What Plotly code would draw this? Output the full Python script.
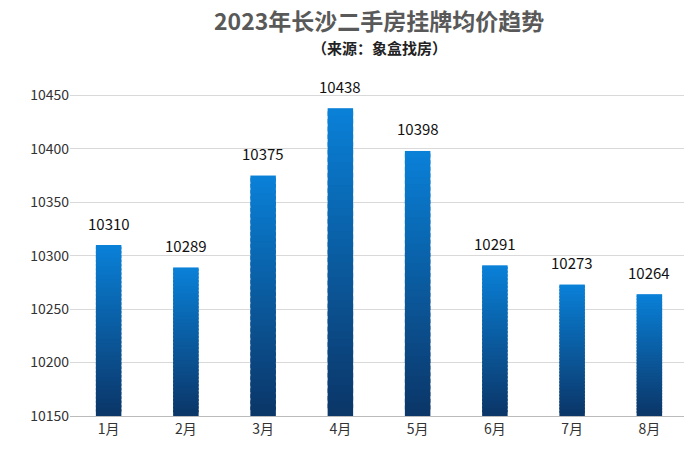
import numpy as np
import plotly.graph_objects as go

months = ["1月", "2月", "3月", "4月", "5月", "6月", "7月", "8月"]
prices = [10310, 10289, 10375, 10438, 10398, 10291, 10273, 10264]
y_floor = 10150

fig = go.Figure()

# per-bar vertical gradient, built from stacked thin segments
n_seg = 40
top_rgb = np.array([10, 128, 215])
bot_rgb = np.array([12, 55, 105])
vals = np.array(prices, dtype=float)
seg = (vals - y_floor) / n_seg
for i in range(n_seg):
    t = i / (n_seg - 1)
    r, g, b = (bot_rgb + (top_rgb - bot_rgb) * t).astype(int)
    h = seg * (1.0 if i == n_seg - 1 else 1.6)
    fig.add_trace(go.Bar(
        x=months, y=h, base=y_floor + seg * i,
        marker=dict(color=f"rgb({r},{g},{b})", line=dict(width=0)),
        width=0.33, hoverinfo="skip", showlegend=False,
    ))

for m, v in zip(months, prices):
    fig.add_annotation(x=m, y=v, text=str(v), showarrow=False, yshift=22,
                       font=dict(size=15, color="#111"))

fig.add_annotation(text="<b>2023年长沙二手房挂牌均价趋势</b>", xref="paper", yref="paper",
                   x=0.5, y=1, yshift=73, showarrow=False,
                   font=dict(size=23, color="#595959"))
fig.add_annotation(text="<b>（来源：象盒找房）</b>", xref="paper", yref="paper",
                   x=0.5, y=1, yshift=39, showarrow=False,
                   font=dict(size=15, color="#222"))

fig.update_layout(
    barmode="overlay",
    width=692, height=453,
    margin=dict(l=62, r=12, t=66, b=45),
    plot_bgcolor="white", paper_bgcolor="white",
    font=dict(family="Noto Sans CJK SC, sans-serif"),
    xaxis=dict(tickfont=dict(size=14, color="#333"), showline=True,
               linecolor="#bbb", ticks=""),
    yaxis=dict(range=[y_floor, 10470], dtick=50, tick0=10150, tickformat="d",
               gridcolor="#d9d9d9", tickfont=dict(size=14, color="#333"),
               zeroline=False),
)

fig.write_html("out.html")
